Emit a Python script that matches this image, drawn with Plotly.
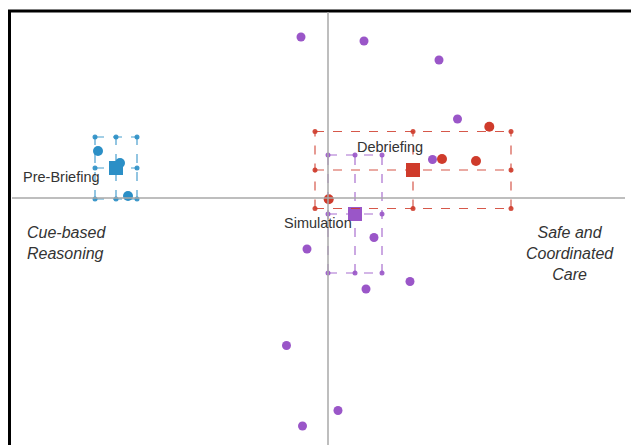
import plotly.graph_objects as go

# ---- data (units: standardized positions on the two dimensions) ----
groups = ["Pre-Briefing", "Simulation", "Debriefing"]
colors = {"Pre-Briefing": "#2b8fc6", "Simulation": "#9a56c8", "Debriefing": "#cf3b2b"}
mean_x = {"Pre-Briefing": -2.12, "Simulation": 0.27, "Debriefing": 0.85}
mean_y = {"Pre-Briefing": 0.30, "Simulation": -0.16, "Debriefing": 0.28}
sd_x = {"Pre-Briefing": 0.21, "Simulation": 0.27, "Debriefing": 0.98}
sd_y = {"Pre-Briefing": 0.31, "Simulation": 0.59, "Debriefing": 0.385}

pre_x = [-2.30, -2.00, -2.08]
pre_y = [0.47, 0.02, 0.35]
sim_x = [-0.27, 0.36, 1.11, 1.295, 1.045, 0.46, -0.21, 0.82, 0.38, -0.415, 0.10, -0.255]
sim_y = [1.61, 1.57, 1.38, 0.79, 0.385, -0.395, -0.51, -0.835, -0.91, -1.475, -2.125, -2.28]
deb_x = [1.613, 1.14, 1.48, 0.007]
deb_y = [0.713, 0.39, 0.37, -0.013]
points = {"Pre-Briefing": (pre_x, pre_y), "Simulation": (sim_x, sim_y), "Debriefing": (deb_x, deb_y)}

# the page adds an 8px body margin, so the figure covers the page from (8, 8)
W, H = 631, 437
x_range = [-3.20, 3.11]
y_range = [-2.47, 1.90]

fig = go.Figure()

# frame and axis lines
fig.add_shape(type="line", xref="paper", yref="paper", x0=1.5/W, x1=1.5/W, y0=0, y1=1-2/H,
              line=dict(color="black", width=3))
fig.add_shape(type="line", xref="paper", yref="paper", x0=0, x1=1, y0=1-3/H, y1=1-3/H,
              line=dict(color="black", width=3))
fig.add_shape(type="line", x0=0, x1=0, y0=y_range[0], y1=1.86, line=dict(color="#a8a8a8", width=1.5))
fig.add_shape(type="line", x0=-3.16, x1=2.97, y0=0, y1=0, line=dict(color="#a8a8a8", width=1.5))

for g in groups:
    c = colors[g]
    xs = [mean_x[g] - sd_x[g], mean_x[g], mean_x[g] + sd_x[g]]
    ys = [mean_y[g] - sd_y[g], mean_y[g], mean_y[g] + sd_y[g]]
    lx, ly = [], []
    for yv in ys:
        lx += [xs[0], xs[2], None]
        ly += [yv, yv, None]
    for xv in xs:
        lx += [xv, xv, None]
        ly += [ys[0], ys[2], None]
    fig.add_trace(go.Scatter(x=lx, y=ly, mode="lines", line=dict(color=c, width=1.2, dash="dash"),
                             opacity=0.85, hoverinfo="skip", showlegend=False))
    nx = [xv for yv in ys for xv in xs]
    ny = [yv for yv in ys for xv in xs]
    fig.add_trace(go.Scatter(x=nx, y=ny, mode="markers", marker=dict(color=c, size=5, symbol="circle"),
                             opacity=0.9, hoverinfo="skip", showlegend=False))
    px_, py_ = points[g]
    fig.add_trace(go.Scatter(x=px_, y=py_, mode="markers", showlegend=False,
                             marker=dict(color=c, size=10 if g != "Simulation" else 9, symbol="circle")))
    fig.add_trace(go.Scatter(x=[mean_x[g]], y=[mean_y[g]], mode="markers", showlegend=False,
                             marker=dict(color=c, size=14, symbol="square")))

lab_font = dict(family="Liberation Sans, Arial, sans-serif", size=14.5, color="#333333")
fig.add_annotation(x=-2.26, y=0.21, text="Pre-Briefing", showarrow=False, xanchor="right", font=lab_font)
fig.add_annotation(x=0.62, y=0.51, text="Debriefing", showarrow=False, xanchor="center", font=lab_font)
fig.add_annotation(x=-0.10, y=-0.25, text="Simulation", showarrow=False, xanchor="center", font=lab_font)

it_font = dict(family="Liberation Sans, Arial, sans-serif", size=16, color="#333333")
fig.add_annotation(x=-3.03, y=-0.45, text="<i>Cue-based<br>Reasoning</i>", showarrow=False,
                   xanchor="left", align="left", font=it_font)
fig.add_annotation(x=2.42, y=-0.55, text="<i>Safe and<br>Coordinated<br>Care</i>", showarrow=False,
                   xanchor="center", align="center", font=it_font)

fig.update_layout(width=W, height=H, margin=dict(l=0, r=0, t=0, b=0),
                  paper_bgcolor="white", plot_bgcolor="white", showlegend=False,
                  xaxis=dict(range=x_range, visible=False, fixedrange=True),
                  yaxis=dict(range=y_range, visible=False, fixedrange=True))
fig.write_html("out.html")
